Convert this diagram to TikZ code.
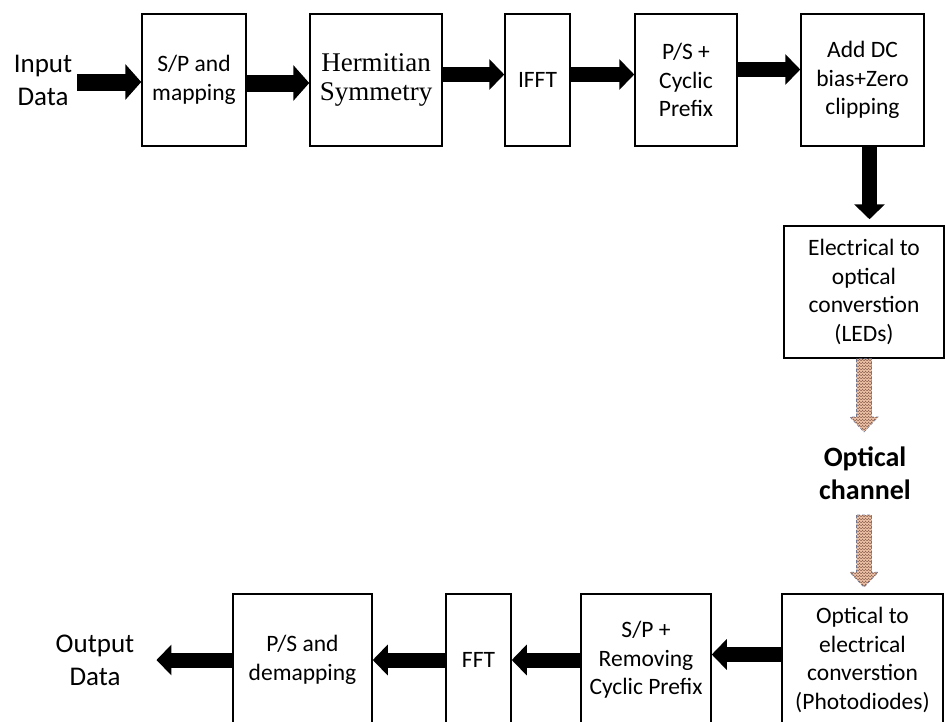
\documentclass[tikz,border=0pt]{standalone}
\usepackage{fontspec}
\setmainfont{Carlito}
\newfontfamily\hermitfont{Liberation Serif}
\usetikzlibrary{arrows.meta,patterns,calc}
\definecolor{peach}{RGB}{243,200,172}
\definecolor{hatchline}{RGB}{140,98,80}
\definecolor{rimblue}{RGB}{112,122,152}

% hatched optical arrow, from #1 down to #2
\newcommand{\opticarrow}[2]{%
  \path[optic] let \p1=(#1), \p2=(#2) in
    (\x1-7.5pt,\y1) -- (\x1-7.5pt,\y2+15pt) -- (\x1-14pt,\y2+15pt) -- (\x1,\y2)
    -- (\x1+14pt,\y2+15pt) -- (\x1+7.5pt,\y2+15pt) -- (\x1+7.5pt,\y1) -- cycle;}

\begin{document}
\begin{tikzpicture}[x=1pt,y=-1pt,
    block/.style={draw,line width=1.5pt,minimum height=132pt,inner sep=0pt,align=center,
                  font=\fontsize{23.5}{28.5}\selectfont},
    inout/.style={inner sep=0pt,align=center,font=\fontsize{27}{33}\selectfont},
    chan/.style={inner sep=0pt,align=center,font=\fontsize{28}{33}\selectfont\bfseries},
    fat/.style={line width=15pt,-{Triangle[length=15pt,width=30pt]}},
    fatter/.style={line width=17pt,-{Triangle[length=16pt,width=35pt]}},
    optic/.style={fill=peach,draw=rimblue,densely dashed,line width=0.6pt,
                  postaction={pattern=crosshatch,pattern color=hatchline}}]

    \useasboundingbox (0,0) rectangle (945,721);
    \clip (0,0) rectangle (945,721);

    % transmitter
    \node[inout] (in) at (43,80) {Input\\Data};
    \node[block, minimum width=104pt] (sp) at (194,80) {S/P and\\mapping};
    \node[block, minimum width=132pt, font=\fontsize{27}{29}\hermitfont] (herm) at (376,80) {Hermitian\\Symmetry};
    \node[block, minimum width=65pt] (ifft) at (537.5,80) {IFFT};
    \node[block, minimum width=102pt] (ps) at (686,80) {P/S +\\Cyclic\\Prefix};
    \node[block, minimum width=123pt] (dc) at (862.5,80) {Add DC\\bias+Zero\\clipping};
    \node[block, minimum width=160pt] (eo) at (864,292) {Electrical to\\optical\\converstion\\(LEDs)};

    % channel
    \node[chan] (chan) at (865,473) {Optical\\channel};
    \coordinate (chin) at (864,432);
    \coordinate (chout) at (864,515);

    % receiver
    \node[block, minimum width=161pt] (oe) at (862.5,660) {Optical to\\electrical\\converstion\\(Photodiodes)};
    \node[block, minimum width=130pt] (sprm) at (646,660) {S/P +\\Removing\\Cyclic Prefix};
    \node[block, minimum width=65pt] (fft) at (478.5,660) {FFT};
    \node[block, minimum width=139pt] (psd) at (302.5,660) {P/S and\\demapping};
    \node[inout] (out) at (95,660) {Output\\Data};

    \path[fatter]
        ([yshift=-2pt]in.east) edge[shorten <=5pt] ([yshift=-2pt]sp.west)
        ([yshift=-3pt]sp.east) edge ([yshift=-3pt]herm.west)
    ;
    \path[fat]
        ([yshift=5.5pt]herm.east) edge ([yshift=5.5pt]ifft.west)
        ([yshift=5.5pt]ifft.east) edge ([yshift=5.5pt]ps.west)
        ([yshift=10.5pt]ps.east) edge ([yshift=10.5pt]dc.west)
        ([xshift=7pt]dc.south) edge[shorten >=6pt] ([xshift=7pt]dc.south |- eo.north)

        ([yshift=5.5pt]oe.west) edge ([yshift=5.5pt]sprm.east)
        (sprm.west) edge (fft.east)
        (fft.west) edge (psd.east)
        (psd.west) edge[shorten >=22pt] (out.east |- psd.west)
    ;

    \opticarrow{eo.south}{chin}
    \opticarrow{chout}{[yshift=6pt]oe.north}
\end{tikzpicture}
\end{document}
